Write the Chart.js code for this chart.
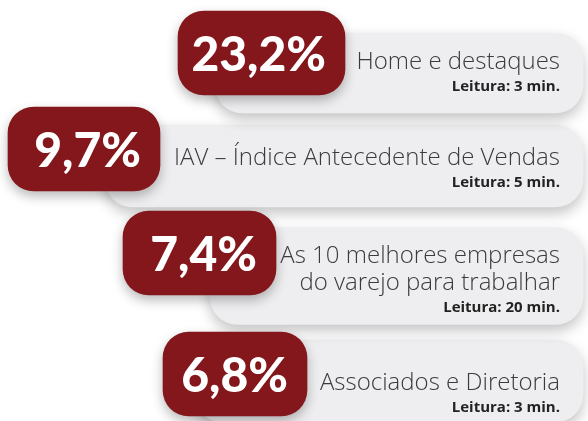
<!DOCTYPE html>
<html>
<head>
<meta charset="utf-8">
<script src="https://cdn.jsdelivr.net/npm/chart.js@4"></script>
<style>
  body { margin: 0; background: #fff; }
  #wrap { width: 588px; height: 421px; }
</style>
</head>
<body>
<div id="wrap"><canvas id="myChart"></canvas></div>
<script>
// data
const categories = [
  ["Home e destaques"],
  ["IAV – Índice Antecedente de Vendas"],
  ["As 10 melhores empresas", "do varejo para trabalhar"],
  ["Associados e Diretoria"],
];
const shares = [23.2, 9.7, 7.4, 6.8];
const readingMinutes = [3, 5, 20, 3];

// layout of the cards, in units of the hidden x / y scales
const badgeStart = [178, 8, 123, 163];
const badgeEnd = [345, 160, 276, 307];
const badgeMid = [53, 149, 253, 374];
const pillStart = [215, 105, 210, 195];
const pillEnd = [583, 583, 583, 583];
const pillMid = [73, 166, 276, 381];
const pillHeight = [80, 82, 97, 82];

const RED = "#83171b";

function fmt(v) {
  return v.toFixed(1).replace(".", ",") + "%";
}

const badgeSet = {
  label: "Participação",
  data: shares.map((v, i) => ({ x: [badgeStart[i], badgeEnd[i]], y: badgeMid[i] })),
  backgroundColor: RED,
  borderRadius: 26,
  borderSkipped: false,
  barThickness: 84,
  grouped: false,
  order: 0,
};

// one dataset per card so each can have its own height
const pillSets = shares.map((v, i) => ({
  label: "Cartão " + (i + 1),
  data: [{ x: [pillStart[i], pillEnd[i]], y: pillMid[i] }],
  backgroundColor: "#eeeef0",
  borderRadius: 28,
  borderSkipped: false,
  barThickness: pillHeight[i],
  grouped: false,
  order: 1,
}));

const shadowPlugin = {
  id: "shadows",
  beforeDatasetDraw(chart, args) {
    const ctx = chart.ctx;
    ctx.save();
    if (args.index === 0) {
      ctx.shadowColor = "rgba(0,0,0,0.28)";
      ctx.shadowBlur = 12;
      ctx.shadowOffsetY = 5;
    } else {
      ctx.shadowColor = "rgba(0,0,0,0.24)";
      ctx.shadowBlur = 14;
      ctx.shadowOffsetY = 6;
    }
  },
  afterDatasetDraw(chart) {
    chart.ctx.restore();
  },
};

const textPlugin = {
  id: "cardText",
  afterDatasetsDraw(chart) {
    const ctx = chart.ctx;
    const badges = chart.getDatasetMeta(0).data;
    ctx.save();
    shares.forEach((v, i) => {
      const b = badges[i];
      const cy = b.y;
      ctx.fillStyle = "#fff";
      ctx.textAlign = "right";
      ctx.textBaseline = "middle";
      ctx.font = "900 48px Lato";
      ctx.fillText(fmt(v), b.x - 19, cy + 3);

      const pill = chart.getDatasetMeta(i + 1).data[0];
      const right = pill.x - 23;
      const lines = categories[i];
      ctx.fillStyle = "#3b3b3d";
      ctx.font = "300 24px 'Open Sans'";
      const y = cy + 9 - (lines.length - 1) * 6;
      lines.forEach((line, k) => {
        ctx.fillText(line, right, y + k * 27);
      });
      const last = y + (lines.length - 1) * 27;
      ctx.fillStyle = "#222";
      ctx.font = "bold 15px 'Open Sans'";
      ctx.fillText("Leitura: " + readingMinutes[i] + " min.", right, last + 25);
    });
    ctx.restore();
  },
};

const config = {
  type: "bar",
  data: { datasets: [badgeSet, ...pillSets] },
  options: {
    indexAxis: "y",
    responsive: true,
    maintainAspectRatio: false,
    animation: false,
    layout: { padding: 0 },
    plugins: { legend: { display: false }, tooltip: { enabled: false } },
    scales: {
      x: { type: "linear", min: 0, max: 588, display: false },
      y: { type: "linear", min: 0, max: 421, reverse: true, offset: false, display: false },
    },
  },
  plugins: [shadowPlugin, textPlugin],
};

new Chart(document.getElementById("myChart"), config);
</script>
</body>
</html>
